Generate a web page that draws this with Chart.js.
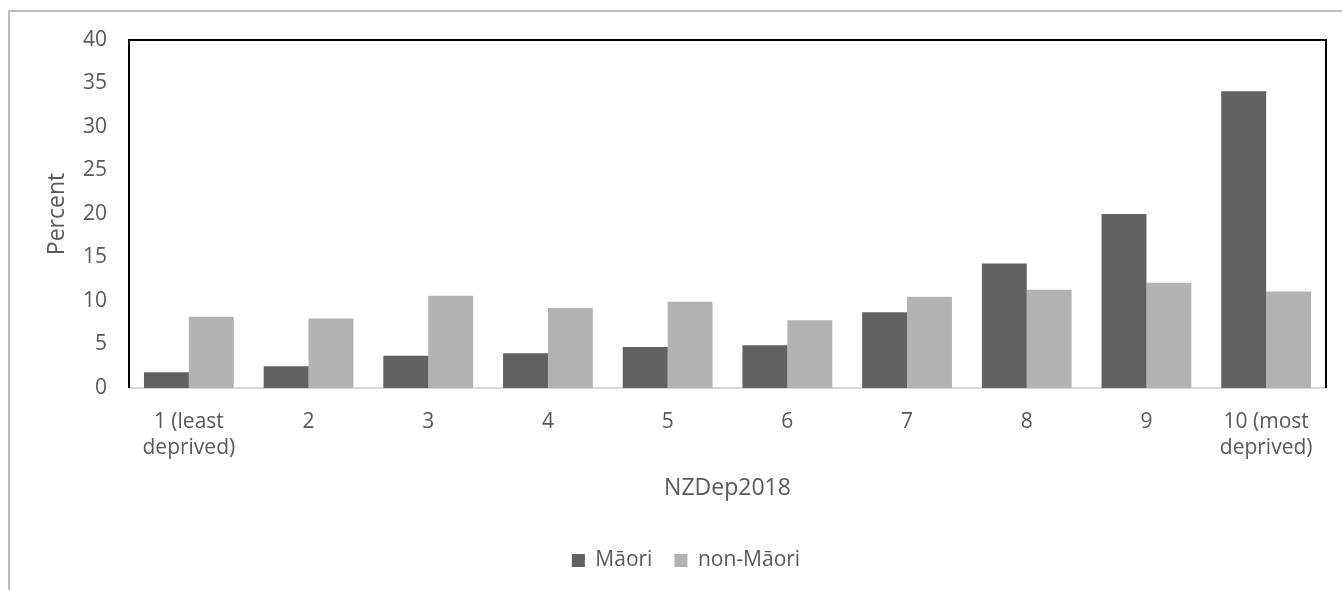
<!DOCTYPE html>
<html>
<head>
<meta charset="utf-8">
<script src="https://cdn.jsdelivr.net/npm/chart.js@4"></script>
<style>
  html, body { margin: 0; padding: 0; background: #fff; }
  #wrap { width: 1342px; height: 590px; }
</style>
</head>
<body>
<div id="wrap"><canvas id="myChart" width="1342" height="590"></canvas></div>
<script>
const categories = [['1 (least', 'deprived)'], '2', '3', '4', '5', '6', '7', '8', '9', ['10 (most', 'deprived)']];
const maoriValues = [1.8, 2.5, 3.7, 4.0, 4.7, 4.9, 8.7, 14.3, 20.0, 34.1];
const nonMaoriValues = [8.2, 8.0, 10.6, 9.2, 9.9, 7.8, 10.5, 11.3, 12.1, 11.1];
const yTicks = [0, 5, 10, 15, 20, 25, 30, 35, 40];

const textColor = '#595959';
const fontFamily = '"Open Sans", sans-serif';

// outer chart frame and the black plot box (left/top/right)
const framePlugin = {
    id: 'frame',
    beforeDraw(chart) {
        const c = chart.ctx;
        c.save();
        c.fillStyle = '#fff';
        c.fillRect(0, 0, chart.width, chart.height);
        c.strokeStyle = '#a6a6a6';
        c.lineWidth = 1.5;
        c.beginPath();
        c.moveTo(9, chart.height + 5);
        c.lineTo(9, 11);
        c.lineTo(chart.width + 5, 11);
        c.stroke();
        c.restore();
    },
    afterDraw(chart) {
        const a = chart.chartArea;
        const c = chart.ctx;
        c.save();
        c.strokeStyle = '#000';
        c.lineWidth = 2;
        c.beginPath();
        c.moveTo(a.left, a.bottom);
        c.lineTo(a.left, a.top);
        c.lineTo(a.right, a.top);
        c.lineTo(a.right, a.bottom);
        c.stroke();
        c.restore();
    }
};

const data = {
    labels: categories,
    datasets: [
        {
            label: 'Māori',
            data: maoriValues,
            backgroundColor: '#616161',
            borderWidth: 0
        },
        {
            label: 'non-Māori',
            data: nonMaoriValues,
            backgroundColor: '#b2b2b2',
            borderWidth: 0
        }
    ]
};

const config = {
    type: 'bar',
    data: data,
    plugins: [framePlugin],
    options: {
        responsive: false,
        animation: false,
        layout: { padding: { top: 40, right: 16, left: 46, bottom: 9 } },
        datasets: { bar: { categoryPercentage: 0.75, barPercentage: 1 } },
        plugins: {
            tooltip: { enabled: false },
            legend: {
                position: 'bottom',
                labels: {
                    color: textColor,
                    font: { family: fontFamily, size: 21 },
                    boxWidth: 13,
                    boxHeight: 13,
                    padding: 22
                }
            }
        },
        scales: {
            x: {
                grid: { display: false, drawTicks: false },
                border: { display: true, color: '#d9d9d9', width: 2 },
                ticks: {
                    color: textColor,
                    font: { family: fontFamily, size: 21, lineHeight: 1.25 },
                    padding: 21,
                    maxRotation: 0,
                    autoSkip: false
                },
                title: {
                    display: true,
                    text: 'NZDep2018',
                    color: textColor,
                    font: { family: fontFamily, size: 23, lineHeight: 1.2 },
                    padding: { top: 0, bottom: 26 }
                },
                afterFit(scale) { scale.height = 140; }
            },
            y: {
                min: 0,
                max: 40,
                grid: { display: false, drawTicks: false },
                border: { display: false },
                afterBuildTicks(scale) { scale.ticks = yTicks.map(v => ({ value: v })); },
                ticks: {
                    color: textColor,
                    font: { family: fontFamily, size: 21 },
                    padding: 22
                },
                title: {
                    display: true,
                    text: 'Percent',
                    color: textColor,
                    font: { family: fontFamily, size: 23, lineHeight: 1.2 },
                    padding: { top: -2, bottom: 0 }
                },
                afterFit(scale) { scale.width = 83; }
            }
        }
    }
};

const myChart = new Chart(document.getElementById('myChart'), config);
</script>
</body>
</html>
